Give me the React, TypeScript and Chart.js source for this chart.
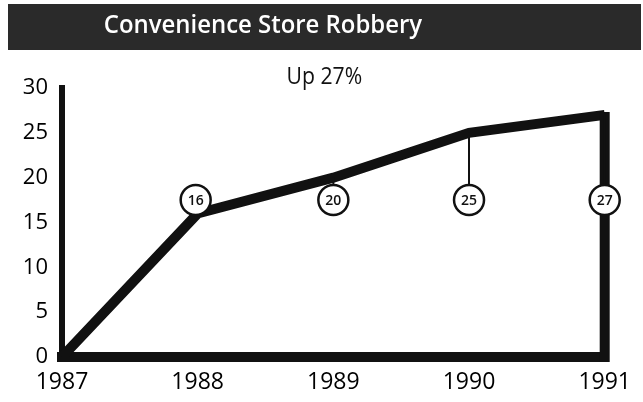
import React, { useEffect, useRef } from "react";
import { Chart, registerables } from "chart.js";

Chart.register(...registerables);

const years = ["1987", "1988", "1989", "1990", "1991"];
const robberies = [0, 16, 20, 25, 27];
const badgeLevel = 17.5;
const titleText = "Convenience Store Robbery";
const noteText = "Up 27%";

const FONT = "'Open Sans', 'DejaVu Sans', sans-serif";

const decorPlugin = {
  id: "decor",
  beforeDraw(chart: any) {
    const ctx = chart.ctx;
    ctx.save();
    ctx.fillStyle = "#fff";
    ctx.fillRect(0, 0, chart.width, chart.height);
    ctx.fillStyle = "#2a2a2a";
    ctx.fillRect(8, 4, 633, 46);
    ctx.fillStyle = "#ffffff";
    ctx.font = `600 26px ${FONT}`;
    ctx.textAlign = "center";
    ctx.textBaseline = "middle";
    ctx.save();
    ctx.translate(263, 26);
    ctx.scale(0.92, 1);
    ctx.fillText(titleText, 0, 0);
    ctx.restore();
    ctx.restore();
  },
  afterDatasetsDraw(chart: any) {
    const ctx = chart.ctx;
    const xs = chart.scales.x;
    const ys = chart.scales.y;
    ctx.save();
    const lastI = years.length - 1;
    const lx = xs.getPixelForValue(lastI);
    ctx.strokeStyle = "#111";
    ctx.lineWidth = 10;
    ctx.lineCap = "butt";
    ctx.beginPath();
    ctx.moveTo(lx, ys.getPixelForValue(robberies[lastI]) - 3);
    ctx.lineTo(lx, ys.getPixelForValue(0) + 5);
    ctx.stroke();

    ctx.fillStyle = "#111";
    ctx.font = `400 23px ${FONT}`;
    ctx.textAlign = "center";
    ctx.textBaseline = "middle";
    ctx.save();
    ctx.translate(xs.getPixelForValue(2) - 9, 77);
    ctx.scale(0.92, 1);
    ctx.fillText(noteText, 0, 0);
    ctx.restore();

    const by = ys.getPixelForValue(badgeLevel);
    const r = 15;
    for (let i = 1; i < years.length; i++) {
      const px = xs.getPixelForValue(i);
      const py = ys.getPixelForValue(robberies[i]);
      const cx = i === 1 ? px - 2 : px;
      if (py < by - r) {
        ctx.strokeStyle = "#111";
        ctx.lineWidth = 2;
        ctx.beginPath();
        ctx.moveTo(cx, py);
        ctx.lineTo(cx, by - r);
        ctx.stroke();
      }
      ctx.beginPath();
      ctx.arc(cx, by, r, 0, Math.PI * 2);
      ctx.fillStyle = "#fff";
      ctx.fill();
      ctx.lineWidth = 2.5;
      ctx.strokeStyle = "#111";
      ctx.stroke();
      ctx.fillStyle = "#111";
      ctx.font = `600 14px ${FONT}`;
      ctx.textAlign = "center";
      ctx.textBaseline = "middle";
      ctx.fillText(String(robberies[i]), cx, by + 1);
    }
    ctx.restore();
  },
};

export default function App() {
  const ref = useRef<HTMLCanvasElement | null>(null);
  useEffect(() => {
    if (!ref.current) return;
    const chart = new Chart(ref.current, {
      type: "line",
      data: {
        labels: years,
        datasets: [
          {
            data: robberies,
            borderColor: "#111",
            borderWidth: 10,
            pointRadius: 0,
            tension: 0,
            borderJoinStyle: "miter",
            borderCapStyle: "butt",
            fill: false,
          },
        ],
      },
      options: {
        responsive: false,
        animation: false,
        events: [],
        layout: { padding: { left: 0, right: 35, top: 88, bottom: 0 } },
        plugins: { legend: { display: false }, tooltip: { enabled: false }, title: { display: false } },
        scales: {
          x: {
            type: "category",
            offset: false,
            grid: { display: false, drawTicks: false },
            border: { display: true, color: "#111", width: 10 },
            ticks: { color: "#000", font: { family: FONT, size: 23 }, padding: 12, maxRotation: 0 },
            afterFit: (s: any) => {
              s.height = 45;
            },
          },
          y: {
            min: 0,
            max: 30,
            grid: { display: false, drawTicks: false },
            border: { display: true, color: "#111", width: 6 },
            ticks: { stepSize: 5, color: "#000", font: { family: FONT, size: 22 }, padding: 14 },
            afterFit: (s: any) => {
              s.width = 62;
            },
          },
        },
      },
      plugins: [decorPlugin],
    });
    return () => chart.destroy();
  }, []);
  return (
    <div style={{ position: "absolute", left: 0, top: 0, width: 643, height: 402 }}>
      <canvas ref={ref} width={643} height={402} style={{ display: "block" }} />
    </div>
  );
}
